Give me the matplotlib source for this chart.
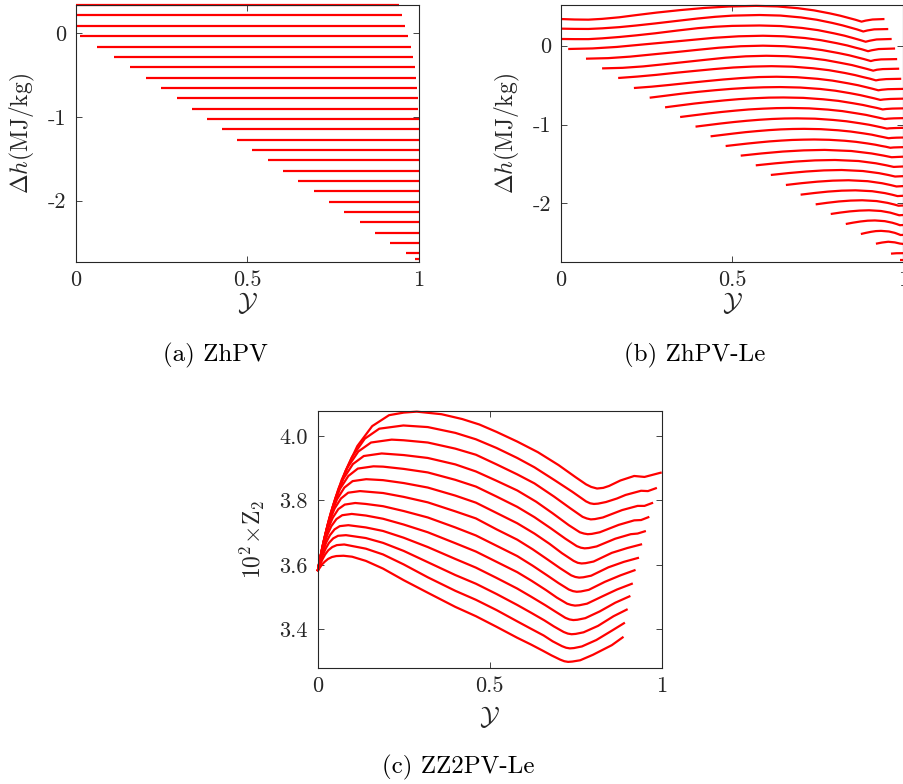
import matplotlib
matplotlib.use('Agg')
import matplotlib.pyplot as plt

plt.rcParams['font.family'] = 'serif'
plt.rcParams['font.serif'] = ['cmr10']
plt.rcParams['mathtext.fontset'] = 'cm'
plt.rcParams['axes.unicode_minus'] = False
plt.rcParams['axes.formatter.use_mathtext'] = True

# (a) ZhPV: flat lines, level / start / end in Y
pv_h = [0.339, 0.215, 0.092, -0.032, -0.159, -0.283, -0.406, -0.530, -0.653,
        -0.777, -0.900, -1.024, -1.147, -1.271, -1.394, -1.518, -1.641, -1.765,
        -1.888, -2.012, -2.135, -2.259, -2.382, -2.506, -2.629, -2.701]
pv_start = [0, 0, 0, 0.012, 0.061, 0.111, 0.157, 0.204, 0.249, 0.294, 0.338,
            0.382, 0.426, 0.469, 0.514, 0.559, 0.603, 0.648, 0.693, 0.738,
            0.782, 0.827, 0.872, 0.916, 0.961, 0.988]
pv_end = [0.942, 0.951, 0.960, 0.969, 0.976, 0.982, 0.987, 0.991, 0.993, 0.996,
          0.998, 1, 1, 1, 1, 1, 1, 1, 1, 1, 1, 1, 1, 1, 1, 1]

# (b) ZhPV-Le
le_x = [
    [0, .04, .08, .12, .17, .22, .28, .35, .42, .49, .57, .632, .693, .739, .786, .816, .841, .860, .878, .89, .91, .945],
    [0, .04, .08, .12, .17, .22, .275, .34, .40, .45, .5, .58, .641, .701, .747, .792, .822, .847, .865, .883, .895, .915, .956],
    [0, .04, .08, .12, .17, .22, .275, .34, .40, .45, .5, .58, .642, .704, .751, .797, .828, .853, .871, .89, .902, .922, .966],
    [.021, .092, .163, .234, .306, .377, .448, .519, .59, .651, .713, .759, .805, .836, .860, .879, .897, .908, .928, .976],
    [.073, .138, .202, .267, .332, .396, .461, .525, .59, .653, .716, .763, .811, .842, .867, .886, .905, .916, .935, .982],
    [.12, .18, .24, .30, .36, .42, .48, .54, .6, .662, .725, .772, .818, .85, .875, .893, .912, .923, .94, .988],
    [.167, .223, .279, .335, .391, .447, .503, .559, .615, .676, .737, .783, .829, .859, .883, .902, .92, .93, .95, .994],
    [.213, .265, .317, .369, .421, .474, .526, .578, .63, .689, .749, .793, .838, .868, .891, .909, .927, .937, .955, 1.0],
    [.259, .307, .354, .402, .45, .497, .545, .592, .64, .699, .757, .801, .845, .874, .898, .915, .933, .943, .962, 1.0],
    [.304, .347, .39, .434, .477, .52, .563, .607, .65, .708, .766, .81, .853, .882, .905, .923, .94, .95, .968, 1.0],
    [.348, .388, .429, .469, .509, .549, .59, .63, .67, .725, .78, .822, .863, .891, .913, .929, .946, .955, .972, 1.0],
    [.393, .43, .467, .504, .542, .579, .616, .653, .69, .742, .795, .834, .873, .9, .921, .936, .952, .96, .975, 1.0],
    [.437, .471, .505, .539, .574, .608, .642, .676, .71, .759, .809, .846, .883, .908, .927, .942, .957, .966, .98, 1.0],
    [.481, .513, .546, .578, .61, .643, .675, .708, .74, .784, .829, .862, .895, .918, .935, .949, .962, .972, 1.0],
    [.525, .586, .648, .709, .77, .848, .907, .942, .966, 1.0],
    [.569, .627, .685, .742, .80, .869, .92, .951, .972, 1.0],
    [.613, .665, .717, .768, .82, .882, .929, .957, .976, 1.0],
    [.657, .703, .749, .794, .84, .896, .938, .963, .98, 1.0],
    [.70, .74, .78, .82, .86, .909, .946, .968, .983, 1.0],
    [.744, .778, .812, .846, .88, .922, .954, .973, .986, 1.0],
    [.788, .816, .844, .872, .90, .935, .962, .977, .988, 1.0],
    [.832, .853, .875, .896, .917, .946, .968, .981, .99, 1.0],
    [.876, .891, .906, .920, .935, .958, .975, .985, .992, 1.0],
    [.92, .938, .956, .975, .99, 1.0],
    [.964, .98, 1.0],
    [.99, 1.0],
]
le_y = [
    [.338, .332, .330, .340, .360, .388, .420, .452, .479, .497, .505, .498, .475, .448, .409, .380, .351, .329, .305, .318, .332, .338],
    [.216, .213, .212, .220, .235, .256, .282, .315, .345, .366, .381, .389, .382, .358, .329, .289, .258, .228, .206, .180, .193, .207, .211],
    [.085, .083, .083, .093, .11, .131, .157, .192, .222, .240, .251, .256, .249, .225, .197, .157, .127, .097, .075, .05, .063, .079, .085],
    [-.042, -.035, -.016, .013, .042, .071, .100, .119, .126, .119, .097, .070, .032, .003, -.025, -.046, -.07, -.058, -.043, -.036],
    [-.165, -.158, -.139, -.111, -.083, -.054, -.026, -.007, 0, -.007, -.029, -.056, -.094, -.122, -.150, -.171, -.195, -.183, -.174, -.170],
    [-.288, -.281, -.263, -.236, -.208, -.180, -.153, -.135, -.128, -.134, -.156, -.182, -.219, -.246, -.274, -.294, -.317, -.305, -.297, -.292],
    [-.41, -.392, -.370, -.344, -.32, -.297, -.277, -.265, -.26, -.266, -.287, -.311, -.346, -.373, -.399, -.418, -.44, -.432, -.424, -.42],
    [-.537, -.520, -.498, -.474, -.451, -.429, -.411, -.398, -.394, -.400, -.420, -.443, -.477, -.502, -.526, -.545, -.566, -.559, -.552, -.548],
    [-.66, -.634, -.608, -.585, -.565, -.548, -.535, -.528, -.525, -.531, -.549, -.571, -.603, -.627, -.651, -.668, -.688, -.682, -.676, -.672],
    [-.782, -.758, -.734, -.713, -.694, -.678, -.667, -.659, -.657, -.662, -.680, -.700, -.730, -.752, -.774, -.790, -.809, -.803, -.798, -.795],
    [-.905, -.883, -.861, -.841, -.824, -.809, -.799, -.792, -.79, -.795, -.811, -.830, -.858, -.878, -.899, -.914, -.931, -.926, -.922, -.919],
    [-1.027, -1.007, -.987, -.969, -.953, -.940, -.930, -.924, -.922, -.926, -.942, -.959, -.984, -1.003, -1.022, -1.036, -1.052, -1.048, -1.045, -1.042],
    [-1.15, -1.132, -1.114, -1.097, -1.083, -1.071, -1.062, -1.057, -1.055, -1.059, -1.073, -1.089, -1.112, -1.129, -1.147, -1.160, -1.174, -1.170, -1.167, -1.165],
    [-1.273, -1.257, -1.241, -1.227, -1.214, -1.204, -1.196, -1.192, -1.19, -1.194, -1.206, -1.220, -1.240, -1.256, -1.271, -1.282, -1.295, -1.291, -1.287],
    [-1.395, -1.367, -1.343, -1.328, -1.322, -1.336, -1.367, -1.394, -1.415, -1.408],
    [-1.518, -1.492, -1.470, -1.455, -1.45, -1.463, -1.492, -1.518, -1.538, -1.532],
    [-1.640, -1.616, -1.596, -1.582, -1.577, -1.590, -1.617, -1.641, -1.660, -1.655],
    [-1.767, -1.744, -1.725, -1.712, -1.707, -1.719, -1.745, -1.768, -1.786, -1.781],
    [-1.890, -1.869, -1.851, -1.839, -1.835, -1.846, -1.870, -1.891, -1.908, -1.904],
    [-2.013, -1.993, -1.976, -1.965, -1.961, -1.971, -1.994, -2.014, -2.030, -2.027],
    [-2.135, -2.117, -2.102, -2.092, -2.088, -2.097, -2.118, -2.137, -2.151, -2.148],
    [-2.262, -2.245, -2.230, -2.220, -2.217, -2.226, -2.246, -2.263, -2.277, -2.275],
    [-2.389, -2.374, -2.361, -2.352, -2.349, -2.357, -2.374, -2.390, -2.402, -2.400],
    [-2.512, -2.497, -2.487, -2.495, -2.51, -2.515],
    [-2.638, -2.633, -2.632],
    [-2.714, -2.714],
]

# (c) ZZ2PV-Le, 10^2 x Z2
zz_x = [
    [0, .0115, .0288, .0518, .0806, .1152, .1584, .2074, .25, .288, .36, .42, .47, .52, .58, .64, .70, .75, .78, .795, .812, .83, .847, .88, .92, .95, .975, 1.0],
    [0, .01, .0249, .0448, .0697, .0996, .137, .179, .249, .32, .4, .46, .52, .58, .63, .69, .74, .78, .792, .803, .815, .838, .87, .895, .94, .96, .986],
    [0, .0086, .0215, .0387, .0602, .086, .118, .155, .215, .25, .32, .4, .46, .52, .58, .63, .687, .735, .77, .782, .794, .806, .829, .885, .93, .95, .975],
    [0, .0074, .0186, .0335, .0521, .0744, .1023, .1339, .186, .25, .32, .4, .46, .52, .58, .635, .683, .73, .762, .774, .785, .797, .82, .875, .92, .94, .964],
    [0, .0065, .0162, .0292, .0454, .0648, .0891, .1166, .162, .19, .25, .32, .4, .46, .52, .58, .63, .678, .72, .753, .765, .776, .788, .811, .865, .91, .93, .954],
    [0, .0056, .0141, .0254, .0395, .0564, .0776, .1015, .141, .19, .25, .32, .4, .46, .52, .58, .63, .674, .71, .744, .756, .767, .779, .802, .855, .90, .943],
    [0, .0049, .0123, .0221, .0344, .0492, .0677, .0886, .123, .19, .25, .32, .4, .46, .52, .58, .625, .67, .705, .737, .749, .76, .772, .795, .845, .89, .934],
    [0, .0044, .0109, .0196, .0305, .0436, .06, .0785, .109, .14, .19, .25, .32, .4, .46, .52, .58, .625, .667, .7, .73, .742, .753, .765, .788, .835, .88, .924],
    [0, .004, .0099, .0178, .0277, .0396, .0545, .0713, .099, .14, .19, .25, .32, .4, .46, .52, .58, .622, .664, .695, .725, .737, .748, .76, .783, .83, .87, .916],
    [0, .0036, .0089, .016, .0249, .0356, .049, .0641, .089, .14, .19, .25, .32, .4, .46, .52, .58, .62, .662, .69, .72, .732, .743, .755, .778, .82, .865, .909],
    [0, .0033, .0082, .0148, .023, .0328, .0451, .059, .082, .14, .19, .25, .32, .4, .46, .52, .58, .62, .659, .687, .715, .727, .738, .75, .773, .815, .86, .901],
    [0, .0031, .0077, .0139, .0216, .0308, .0424, .0554, .077, .14, .19, .25, .32, .4, .46, .52, .58, .62, .657, .683, .71, .722, .733, .745, .768, .81, .855, .893],
    [0, .003, .0075, .0135, .021, .03, .0413, .054, .075, .1, .14, .19, .25, .32, .4, .46, .52, .58, .62, .654, .68, .705, .717, .728, .74, .763, .8, .855, .889],
]
zz_y = [
    [3.58, 3.637, 3.714, 3.803, 3.891, 3.969, 4.031, 4.065, 4.073, 4.076, 4.068, 4.053, 4.036, 4.013, 3.983, 3.950, 3.910, 3.872, 3.850, 3.842, 3.837, 3.839, 3.845, 3.862, 3.876, 3.873, 3.880, 3.887],
    [3.58, 3.632, 3.703, 3.783, 3.864, 3.935, 3.992, 4.023, 4.033, 4.028, 4.010, 3.990, 3.963, 3.932, 3.903, 3.862, 3.827, 3.797, 3.791, 3.789, 3.790, 3.795, 3.806, 3.817, 3.830, 3.829, 3.839],
    [3.58, 3.627, 3.691, 3.764, 3.836, 3.901, 3.952, 3.980, 3.989, 3.987, 3.980, 3.961, 3.942, 3.912, 3.881, 3.853, 3.812, 3.775, 3.749, 3.744, 3.741, 3.742, 3.747, 3.770, 3.783, 3.783, 3.793],
    [3.58, 3.622, 3.679, 3.744, 3.809, 3.867, 3.913, 3.938, 3.946, 3.941, 3.932, 3.912, 3.890, 3.861, 3.831, 3.796, 3.760, 3.723, 3.701, 3.697, 3.695, 3.696, 3.701, 3.724, 3.738, 3.739, 3.749],
    [3.58, 3.617, 3.668, 3.726, 3.784, 3.836, 3.876, 3.899, 3.906, 3.905, 3.898, 3.887, 3.864, 3.843, 3.812, 3.780, 3.748, 3.713, 3.681, 3.658, 3.653, 3.651, 3.652, 3.657, 3.681, 3.695, 3.697, 3.705],
    [3.58, 3.613, 3.658, 3.708, 3.759, 3.804, 3.840, 3.860, 3.866, 3.863, 3.854, 3.840, 3.815, 3.793, 3.761, 3.729, 3.697, 3.665, 3.636, 3.612, 3.606, 3.604, 3.605, 3.610, 3.637, 3.652, 3.664],
    [3.58, 3.609, 3.647, 3.692, 3.736, 3.775, 3.806, 3.824, 3.829, 3.823, 3.811, 3.794, 3.766, 3.744, 3.710, 3.678, 3.648, 3.615, 3.589, 3.567, 3.562, 3.560, 3.561, 3.566, 3.592, 3.609, 3.622],
    [3.58, 3.604, 3.637, 3.675, 3.713, 3.746, 3.773, 3.787, 3.792, 3.789, 3.782, 3.767, 3.747, 3.716, 3.691, 3.659, 3.627, 3.597, 3.567, 3.543, 3.523, 3.518, 3.516, 3.517, 3.522, 3.547, 3.567, 3.584],
    [3.58, 3.600, 3.628, 3.660, 3.692, 3.720, 3.742, 3.754, 3.758, 3.753, 3.743, 3.725, 3.701, 3.667, 3.641, 3.609, 3.577, 3.550, 3.521, 3.498, 3.479, 3.475, 3.473, 3.474, 3.479, 3.503, 3.523, 3.542],
    [3.58, 3.596, 3.619, 3.644, 3.670, 3.692, 3.710, 3.720, 3.723, 3.716, 3.705, 3.684, 3.655, 3.618, 3.591, 3.559, 3.526, 3.501, 3.474, 3.455, 3.435, 3.430, 3.428, 3.429, 3.434, 3.455, 3.482, 3.503],
    [3.58, 3.593, 3.610, 3.630, 3.650, 3.668, 3.682, 3.690, 3.692, 3.683, 3.668, 3.643, 3.608, 3.568, 3.541, 3.509, 3.475, 3.451, 3.427, 3.408, 3.391, 3.386, 3.384, 3.385, 3.390, 3.41, 3.440, 3.462],
    [3.58, 3.590, 3.602, 3.617, 3.632, 3.645, 3.655, 3.661, 3.663, 3.650, 3.632, 3.601, 3.561, 3.519, 3.491, 3.459, 3.424, 3.401, 3.380, 3.362, 3.347, 3.342, 3.340, 3.341, 3.346, 3.366, 3.395, 3.420],
    [3.58, 3.586, 3.593, 3.602, 3.610, 3.618, 3.624, 3.627, 3.628, 3.625, 3.612, 3.588, 3.552, 3.513, 3.469, 3.440, 3.407, 3.373, 3.352, 3.333, 3.318, 3.305, 3.300, 3.298, 3.299, 3.303, 3.320, 3.350, 3.376],
]

x_ticks = [0, 0.5, 1]
x_ticklabels = ['0', '0.5', '1']
dh_ticks = [-2, -1, 0]
dh_ticklabels = ['-2', '-1', '0']
z2_ticks = [3.4, 3.6, 3.8, 4.0]
z2_ticklabels = ['3.4', '3.6', '3.8', '4.0']

red = (1, 0, 0)
dark = (0.15, 0.15, 0.15)
lw = 1.6


def style(ax, yticks, yticklabels, ylabel, ylab_x):
    ax.set_xlim(0, 1)
    ax.set_xticks(x_ticks)
    ax.set_xticklabels(x_ticklabels)
    ax.set_yticks(yticks)
    ax.set_yticklabels(yticklabels)
    ax.tick_params(direction='in', top=True, right=True, length=4, width=0.6,
                   labelsize=16, colors=dark, pad=7)
    ax.tick_params(axis='x', pad=6)
    for s in ax.spines.values():
        s.set_color(dark)
        s.set_linewidth(0.8)
    ax.set_ylabel(ylabel, fontsize=17, color=dark)
    ax.yaxis.set_label_coords(ylab_x, 0.5)
    ax.set_xlabel(r'$\mathcal{Y}$', fontsize=19, color=dark)


fig = plt.figure(figsize=(9.04, 7.84), dpi=100)
W, H = 904.0, 784.0

ax1 = fig.add_axes([76 / W, 1 - 262 / H, 343 / W, 257 / H])
for h, a, b in zip(pv_h, pv_start, pv_end):
    ax1.plot([a, b], [h, h], color=red, lw=lw, clip_on=False, solid_capstyle='butt')
ax1.set_ylim(-2.733, 0.339)
style(ax1, dh_ticks, dh_ticklabels, r'$\Delta h(\mathrm{MJ/kg})$', -0.114)
ax1.xaxis.set_label_coords(0.5, -0.11)

ax2 = fig.add_axes([561 / W, 1 - 262 / H, 342.3 / W, 257 / H])
for xs, ys in zip(le_x, le_y):
    ax2.plot(xs, ys, color=red, lw=lw, clip_on=False, solid_capstyle='butt')
ax2.set_ylim(-2.744, 0.516)
style(ax2, dh_ticks, dh_ticklabels, r'$\Delta h(\mathrm{MJ/kg})$', -0.114)
ax2.xaxis.set_label_coords(0.5, -0.11)

ax3 = fig.add_axes([317.7 / W, 1 - 668 / H, 344 / W, 257 / H])
for xs, ys in zip(zz_x, zz_y):
    ax3.plot(xs, ys, color=red, lw=lw, clip_on=False, solid_capstyle='butt')
ax3.set_ylim(3.279, 4.078)
style(ax3, z2_ticks, z2_ticklabels, r'$10^2\!\times\!\mathrm{Z}_2$', -0.147)
ax3.xaxis.set_label_coords(0.5, -0.14)

fig.text(215 / W, 1 - 355 / H, '(a) ZhPV', ha='center', va='center', fontsize=18)
fig.text(695 / W, 1 - 355 / H, '(b) ZhPV-Le', ha='center', va='center', fontsize=18)
fig.text(458 / W, 1 - 767 / H, '(c) ZZ2PV-Le', ha='center', va='center', fontsize=18)

fig.savefig('out.png', dpi=100)
